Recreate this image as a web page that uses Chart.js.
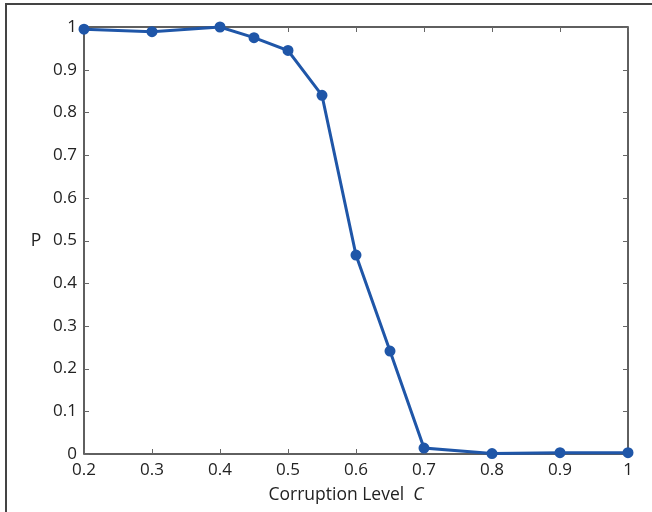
<!DOCTYPE html>
<html>
<head>
<meta charset="utf-8">
<script src="https://cdn.jsdelivr.net/npm/chart.js@4"></script>
<style>
  html, body { margin: 0; padding: 0; background: #fff; }
  #wrap { width: 652px; height: 512px; position: relative; }
</style>
</head>
<body>
<div id="wrap"><canvas id="corruption-chart"></canvas></div>
<script>
/* chart data */
const corruptionLevels = [0.2, 0.3, 0.4, 0.45, 0.5, 0.55, 0.6, 0.65, 0.7, 0.8, 0.9, 1.0];
const pValues = [0.995, 0.989, 1.0, 0.975, 0.945, 0.84, 0.466, 0.241, 0.014, 0.001, 0.003, 0.003];
const xTicks = [0.2, 0.3, 0.4, 0.5, 0.6, 0.7, 0.8, 0.9, 1];
const yTicks = [0, 0.1, 0.2, 0.3, 0.4, 0.5, 0.6, 0.7, 0.8, 0.9, 1];

const textColor = '#222';
const axisColor = '#2b2b2b';
const fontFamily = '"Open Sans", "Noto Sans", sans-serif';
const titleFont = '17.5px ' + fontFamily;

/* box, inward ticks, axis titles and outer frame */
const matlabAxes = {
    id: 'matlabAxes',
    beforeDatasetsDraw(chart) {
        const ctx = chart.ctx;
        const a = chart.chartArea;
        const xs = chart.scales.x, ys = chart.scales.y;
        ctx.save();
        // outer figure frame (top and left edges)
        ctx.strokeStyle = '#444';
        ctx.lineWidth = 2;
        ctx.beginPath();
        ctx.moveTo(6, 512);
        ctx.lineTo(6, 4);
        ctx.lineTo(652, 4);
        ctx.stroke();

        ctx.strokeStyle = axisColor;
        ctx.lineWidth = 1.5;
        ctx.strokeRect(a.left, a.top, a.right - a.left, a.bottom - a.top);

        ctx.lineWidth = 1;
        ctx.strokeStyle = '#666';
        ctx.beginPath();
        for (const v of xTicks) {
            const px = Math.round(xs.getPixelForValue(v)) + 0.5;
            ctx.moveTo(px, a.bottom); ctx.lineTo(px, a.bottom - 5);
            ctx.moveTo(px, a.top); ctx.lineTo(px, a.top + 5);
        }
        for (const v of yTicks) {
            const py = Math.round(ys.getPixelForValue(v)) + 0.5;
            ctx.moveTo(a.left, py); ctx.lineTo(a.left + 5, py);
            ctx.moveTo(a.right, py); ctx.lineTo(a.right - 5, py);
        }
        ctx.stroke();

        // y title, horizontal as in the original
        ctx.fillStyle = textColor;
        ctx.font = titleFont;
        ctx.textAlign = 'center';
        ctx.textBaseline = 'middle';
        ctx.fillText('P', 36, 241);

        // x title with italic C
        const main = 'Corruption Level  ';
        ctx.font = titleFont;
        const w1 = ctx.measureText(main).width;
        ctx.font = 'italic ' + titleFont;
        const w2 = ctx.measureText('C').width;
        const start = (a.left + a.right) / 2 - (w1 + w2) / 2 - 10;
        ctx.textAlign = 'left';
        ctx.font = titleFont;
        ctx.fillText(main, start, 495);
        ctx.font = 'italic ' + titleFont;
        ctx.fillText('C', start + w1, 495);
        ctx.restore();
    }
};

function initCorruptionChart() {
    const ctx = document.getElementById('corruption-chart');
    return new Chart(ctx, {
        type: 'scatter',
        data: {
            datasets: [{
                label: 'P',
                data: corruptionLevels.map((c, i) => ({x: c, y: pValues[i]})),
                showLine: true,
                borderColor: '#1f56a8',
                backgroundColor: '#1f56a8',
                borderWidth: 3,
                pointRadius: 4,
                pointHoverRadius: 4,
                clip: false
            }]
        },
        options: {
            responsive: true,
            maintainAspectRatio: false,
            animation: false,
            layout: { padding: { top: 27, right: 24, left: 0, bottom: 0 } },
            plugins: { legend: { display: false }, tooltip: { enabled: false } },
            scales: {
                x: {
                    type: 'linear',
                    min: 0.2,
                    max: 1,
                    afterBuildTicks: (s) => { s.ticks = xTicks.map(v => ({value: v})); },
                    afterFit: (s) => { s.height = 58; },
                    grid: { display: false, drawTicks: false },
                    border: { display: false },
                    ticks: {
                        color: textColor,
                        font: { family: fontFamily, size: 17 },
                        padding: 6,
                        maxRotation: 0,
                        autoSkip: false,
                        callback: (v) => String(Math.round(v * 10) / 10)
                    }
                },
                y: {
                    type: 'linear',
                    min: 0,
                    max: 1,
                    afterBuildTicks: (s) => { s.ticks = yTicks.map(v => ({value: v})); },
                    afterFit: (s) => { s.width = 84; },
                    grid: { display: false, drawTicks: false },
                    border: { display: false },
                    ticks: {
                        color: textColor,
                        font: { family: fontFamily, size: 17 },
                        padding: 7,
                        autoSkip: false,
                        callback: (v) => String(Math.round(v * 10) / 10)
                    }
                }
            }
        },
        plugins: [matlabAxes]
    });
}

const corruptionChart = initCorruptionChart();
</script>
</body>
</html>
